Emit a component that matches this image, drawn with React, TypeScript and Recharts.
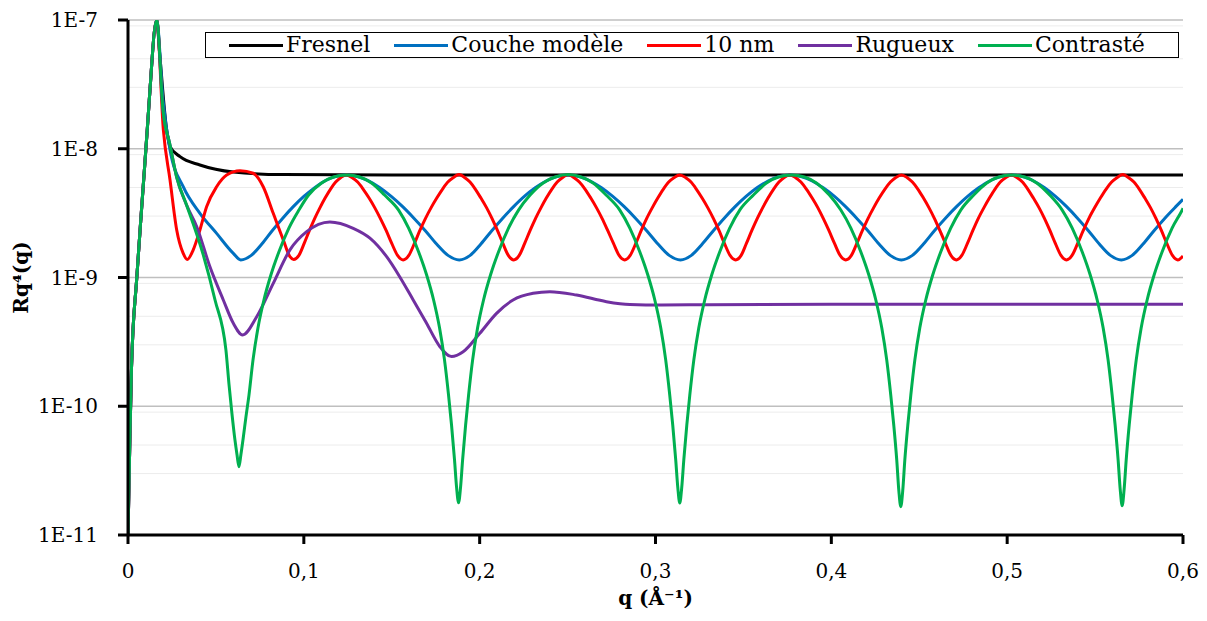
import React from 'react';
import { LineChart, Line, XAxis, YAxis, CartesianGrid, Legend } from 'recharts';

type Pt = [number, number];

// montée commune (bord critique) jusqu'au pic
const rise: Pt[] = [
  [0, 1e-11], [0.001, 5e-11], [0.002, 2.0e-10], [0.005, 1.0e-9], [0.008, 3.85e-9],
  [0.011, 1.44e-8], [0.0121, 2.39e-8], [0.0163, 1e-7],
];

const fresnel: Pt[] = [
  ...rise,
  [0.018, 5.5e-8], [0.022, 1.4e-8], [0.0239, 1.04e-8], [0.0296, 8.68e-9], [0.0409, 7.48e-9],
  [0.0599, 6.6e-9], [0.0883, 6.3e-9], [0.15, 6.25e-9], [0.3, 6.25e-9], [0.45, 6.25e-9], [0.6, 6.25e-9],
];

const coucheModele: Pt[] = [
  ...rise,
  [0.0199, 2.39e-8], [0.0239, 9.78e-9], [0.0314, 5.07e-9], [0.0409, 3.15e-9], [0.0504, 2.2e-9],
  [0.0599, 1.54e-9], [0.0641, 1.37e-9],
  [0.0701, 1.485e-9], [0.0761, 1.82e-9], [0.082, 2.31e-9], [0.088, 2.89e-9], [0.094, 3.55e-9],
  [0.1, 4.26e-9], [0.106, 4.97e-9], [0.1119, 5.62e-9], [0.1179, 6.07e-9], [0.1239, 6.25e-9],
  [0.1304, 6.07e-9], [0.1368, 5.62e-9], [0.1433, 4.97e-9], [0.1497, 4.26e-9], [0.1562, 3.55e-9],
  [0.1626, 2.89e-9], [0.1691, 2.31e-9], [0.1755, 1.82e-9], [0.182, 1.485e-9], [0.1884, 1.37e-9],
  [0.1946, 1.485e-9], [0.2007, 1.82e-9], [0.2069, 2.31e-9], [0.2131, 2.89e-9], [0.2193, 3.55e-9],
  [0.2254, 4.26e-9], [0.2316, 4.97e-9], [0.2378, 5.62e-9], [0.2439, 6.07e-9], [0.2501, 6.25e-9],
  [0.2565, 6.07e-9], [0.2629, 5.62e-9], [0.2693, 4.97e-9], [0.2757, 4.26e-9], [0.2822, 3.55e-9],
  [0.2886, 2.89e-9], [0.295, 2.31e-9], [0.3014, 1.82e-9], [0.3078, 1.485e-9], [0.3142, 1.37e-9],
  [0.3204, 1.485e-9], [0.3266, 1.82e-9], [0.3329, 2.31e-9], [0.3391, 2.89e-9], [0.3453, 3.55e-9],
  [0.3515, 4.26e-9], [0.3577, 4.97e-9], [0.364, 5.62e-9], [0.3702, 6.07e-9], [0.3764, 6.25e-9],
  [0.3827, 6.07e-9], [0.3891, 5.62e-9], [0.3954, 4.97e-9], [0.4018, 4.26e-9], [0.4081, 3.55e-9],
  [0.4144, 2.89e-9], [0.4208, 2.31e-9], [0.4271, 1.82e-9], [0.4335, 1.485e-9], [0.4398, 1.37e-9],
  [0.4461, 1.485e-9], [0.4524, 1.82e-9], [0.4586, 2.31e-9], [0.4649, 2.89e-9], [0.4712, 3.55e-9],
  [0.4775, 4.26e-9], [0.4838, 4.97e-9], [0.49, 5.62e-9], [0.4963, 6.07e-9], [0.5026, 6.25e-9],
  [0.5088, 6.07e-9], [0.5151, 5.62e-9], [0.5213, 4.97e-9], [0.5275, 4.26e-9], [0.5338, 3.55e-9],
  [0.54, 2.89e-9], [0.5462, 2.31e-9], [0.5524, 1.82e-9], [0.5587, 1.485e-9], [0.5649, 1.37e-9],
  [0.5711, 1.485e-9], [0.5773, 1.82e-9], [0.5835, 2.31e-9], [0.5897, 2.89e-9], [0.5959, 3.55e-9],
  [0.6, 4.05e-9],
];

const dixNm: Pt[] = [
  ...rise,
  [0.0201, 1.4e-8], [0.0239, 5.72e-9], [0.0277, 2.34e-9], [0.0314, 1.54e-9], [0.0337, 1.38e-9],
  [0.0371, 1.64e-9], [0.0409, 2.34e-9], [0.0447, 3.55e-9], [0.0504, 5.07e-9], [0.0561, 6.25e-9],
  [0.0637, 6.75e-9], [0.0712, 6.45e-9], [0.0769, 5.07e-9], [0.0826, 3.15e-9], [0.0883, 1.96e-9],
  [0.0921, 1.45e-9], [0.0942, 1.38e-9],
  [0.0972, 1.485e-9], [0.1002, 1.84e-9], [0.1032, 2.32e-9], [0.1062, 2.88e-9], [0.1092, 3.49e-9], [0.1121, 4.14e-9], [0.1151, 4.84e-9], [0.1181, 5.51e-9], [0.1211, 5.99e-9], [0.1241, 6.25e-9],
  [0.1273, 5.99e-9], [0.1306, 5.51e-9], [0.1338, 4.84e-9], [0.1371, 4.14e-9], [0.1403, 3.49e-9], [0.1435, 2.88e-9], [0.1468, 2.32e-9], [0.15, 1.84e-9], [0.1533, 1.485e-9], [0.1565, 1.37e-9],
  [0.1597, 1.485e-9], [0.1629, 1.84e-9], [0.166, 2.32e-9], [0.1692, 2.88e-9], [0.1724, 3.49e-9], [0.1756, 4.14e-9], [0.1788, 4.84e-9], [0.1819, 5.51e-9], [0.1851, 5.99e-9], [0.1883, 6.3e-9],
  [0.1914, 5.99e-9], [0.1945, 5.51e-9], [0.1976, 4.84e-9], [0.2007, 4.14e-9], [0.2039, 3.49e-9], [0.207, 2.88e-9], [0.2101, 2.32e-9], [0.2132, 1.84e-9], [0.2163, 1.485e-9], [0.2194, 1.37e-9],
  [0.2225, 1.485e-9], [0.2256, 1.84e-9], [0.2287, 2.32e-9], [0.2318, 2.88e-9], [0.2349, 3.49e-9], [0.2379, 4.14e-9], [0.241, 4.84e-9], [0.2441, 5.51e-9], [0.2472, 5.99e-9], [0.2503, 6.3e-9],
  [0.2535, 5.99e-9], [0.2567, 5.51e-9], [0.26, 4.84e-9], [0.2632, 4.14e-9], [0.2664, 3.49e-9], [0.2696, 2.88e-9], [0.2728, 2.32e-9], [0.2761, 1.84e-9], [0.2793, 1.485e-9], [0.2825, 1.37e-9],
  [0.2856, 1.485e-9], [0.2888, 1.84e-9], [0.2919, 2.32e-9], [0.295, 2.88e-9], [0.2982, 3.49e-9], [0.3013, 4.14e-9], [0.3044, 4.84e-9], [0.3075, 5.51e-9], [0.3107, 5.99e-9], [0.3138, 6.25e-9],
  [0.317, 5.99e-9], [0.3202, 5.51e-9], [0.3233, 4.84e-9], [0.3265, 4.14e-9], [0.3297, 3.49e-9], [0.3329, 2.88e-9], [0.3361, 2.32e-9], [0.3392, 1.84e-9], [0.3424, 1.485e-9], [0.3456, 1.37e-9],
  [0.3487, 1.485e-9], [0.3517, 1.84e-9], [0.3548, 2.32e-9], [0.3579, 2.88e-9], [0.361, 3.49e-9], [0.364, 4.14e-9], [0.3671, 4.84e-9], [0.3702, 5.51e-9], [0.3732, 5.99e-9], [0.3763, 6.25e-9],
  [0.3795, 5.99e-9], [0.3827, 5.51e-9], [0.3859, 4.84e-9], [0.3891, 4.14e-9], [0.3923, 3.49e-9], [0.3954, 2.88e-9], [0.3986, 2.32e-9], [0.4018, 1.84e-9], [0.405, 1.485e-9], [0.4082, 1.37e-9],
  [0.4114, 1.485e-9], [0.4145, 1.84e-9], [0.4177, 2.32e-9], [0.4209, 2.88e-9], [0.4241, 3.49e-9], [0.4272, 4.14e-9], [0.4304, 4.84e-9], [0.4336, 5.51e-9], [0.4367, 5.99e-9], [0.4399, 6.25e-9],
  [0.443, 5.99e-9], [0.4461, 5.51e-9], [0.4493, 4.84e-9], [0.4524, 4.14e-9], [0.4555, 3.49e-9], [0.4586, 2.88e-9], [0.4617, 2.32e-9], [0.4649, 1.84e-9], [0.468, 1.485e-9], [0.4711, 1.37e-9],
  [0.4742, 1.485e-9], [0.4774, 1.84e-9], [0.4805, 2.32e-9], [0.4836, 2.88e-9], [0.4868, 3.49e-9], [0.4899, 4.14e-9], [0.493, 4.84e-9], [0.4961, 5.51e-9], [0.4993, 5.99e-9], [0.5024, 6.25e-9],
  [0.5055, 5.99e-9], [0.5087, 5.51e-9], [0.5118, 4.84e-9], [0.5149, 4.14e-9], [0.5181, 3.49e-9], [0.5212, 2.88e-9], [0.5243, 2.32e-9], [0.5274, 1.84e-9], [0.5306, 1.485e-9], [0.5337, 1.37e-9],
  [0.5369, 1.485e-9], [0.5401, 1.84e-9], [0.5433, 2.32e-9], [0.5465, 2.88e-9], [0.5498, 3.49e-9], [0.553, 4.14e-9], [0.5562, 4.84e-9], [0.5594, 5.51e-9], [0.5626, 5.99e-9], [0.5658, 6.3e-9],
  [0.5689, 5.99e-9], [0.5721, 5.51e-9], [0.5752, 4.84e-9], [0.5783, 4.14e-9], [0.5815, 3.49e-9], [0.5846, 2.88e-9], [0.5877, 2.32e-9], [0.5908, 1.84e-9], [0.594, 1.485e-9], [0.5971, 1.37e-9],
  [0.6, 1.47e-9],
];

const rugueux: Pt[] = [
  ...rise,
  [0.0199, 2.0e-8], [0.0239, 1.07e-8], [0.0277, 6.0e-9], [0.0334, 3.63e-9], [0.0391, 2.48e-9],
  [0.0466, 1.21e-9], [0.0542, 6.69e-10], [0.0599, 4.41e-10], [0.0652, 3.58e-10], [0.0732, 4.96e-10],
  [0.0826, 9.01e-10], [0.0921, 1.64e-9], [0.1016, 2.27e-9], [0.1148, 2.7e-9], [0.1281, 2.41e-9],
  [0.1376, 2.02e-9], [0.1471, 1.45e-9], [0.1546, 1.01e-9], [0.1622, 6.69e-10], [0.1698, 4.41e-10],
  [0.1774, 2.9e-10], [0.184, 2.43e-10], [0.1906, 2.65e-10], [0.2001, 3.69e-10], [0.2096, 5.27e-10],
  [0.219, 6.69e-10], [0.2304, 7.54e-10], [0.2399, 7.76e-10], [0.2551, 7.31e-10], [0.2721, 6.49e-10],
  [0.2854, 6.17e-10], [0.3036, 6.11e-10], [0.33, 6.15e-10], [0.4, 6.2e-10], [0.5, 6.2e-10], [0.6, 6.2e-10],
];

const contraste: Pt[] = [
  ...rise,
  [0.0199, 2.0e-8], [0.0239, 1.07e-8], [0.0277, 6.0e-9], [0.0334, 3.63e-9], [0.0428, 1.5e-9],
  [0.0495, 6.69e-10], [0.0557, 2.73e-10], [0.0574, 1.5e-10], [0.0591, 8.8e-11], [0.0608, 5.5e-11],
  [0.062, 4.2e-11], [0.0631, 3.39e-11], [0.0642, 4.2e-11], [0.0654, 5.5e-11], [0.0671, 8.3e-11],
  [0.0688, 1.22e-10], [0.0711, 2.29e-10], [0.0739, 4.05e-10], [0.0773, 6.69e-10], [0.0813, 1.05e-9],
  [0.0858, 1.58e-9], [0.0915, 2.42e-9], [0.0972, 3.34e-9], [0.1027, 4.37e-9], [0.1101, 5.42e-9],
  [0.1169, 6.03e-9], [0.1243, 6.25e-9],
  [0.1317, 6.03e-9], [0.1385, 5.42e-9], [0.1459, 4.37e-9], [0.1539, 3.34e-9], [0.1596, 2.42e-9],
  [0.1653, 1.58e-9], [0.1698, 1.05e-9], [0.1738, 6.69e-10], [0.1772, 4.05e-10], [0.18, 2.29e-10],
  [0.1823, 1.22e-10], [0.184, 7.15e-11], [0.1857, 3.83e-11], [0.1869, 2.32e-11], [0.188, 1.78e-11],
  [0.1891, 2.32e-11], [0.1903, 3.83e-11], [0.192, 7.15e-11], [0.1937, 1.22e-10], [0.196, 2.29e-10],
  [0.1988, 4.05e-10], [0.2022, 6.69e-10], [0.2062, 1.05e-9], [0.2107, 1.58e-9], [0.2164, 2.42e-9],
  [0.2221, 3.34e-9], [0.2287, 4.37e-9], [0.2361, 5.42e-9], [0.2429, 6.03e-9], [0.2503, 6.3e-9],
  [0.2577, 6.03e-9], [0.2645, 5.42e-9], [0.2719, 4.37e-9], [0.2797, 3.34e-9], [0.2854, 2.42e-9],
  [0.2911, 1.58e-9], [0.2956, 1.05e-9], [0.2996, 6.69e-10], [0.303, 4.05e-10], [0.3058, 2.29e-10],
  [0.3081, 1.22e-10], [0.3098, 7.15e-11], [0.3115, 3.83e-11], [0.3127, 2.32e-11], [0.3138, 1.77e-11],
  [0.3149, 2.32e-11], [0.3161, 3.83e-11], [0.3178, 7.15e-11], [0.3195, 1.22e-10], [0.3218, 2.29e-10],
  [0.3246, 4.05e-10], [0.328, 6.69e-10], [0.332, 1.05e-9], [0.3365, 1.58e-9], [0.3422, 2.42e-9],
  [0.3479, 3.34e-9], [0.3557, 4.37e-9], [0.3631, 5.42e-9], [0.3699, 6.03e-9], [0.3773, 6.25e-9],
  [0.3847, 6.03e-9], [0.3915, 5.42e-9], [0.3989, 4.37e-9], [0.4054, 3.34e-9], [0.4111, 2.42e-9],
  [0.4168, 1.58e-9], [0.4213, 1.05e-9], [0.4253, 6.69e-10], [0.4287, 4.05e-10], [0.4315, 2.29e-10],
  [0.4338, 1.22e-10], [0.4355, 7.15e-11], [0.4372, 3.83e-11], [0.4384, 2.2e-11], [0.4395, 1.66e-11],
  [0.4406, 2.2e-11], [0.4418, 3.83e-11], [0.4435, 7.15e-11], [0.4452, 1.22e-10], [0.4475, 2.29e-10],
  [0.4503, 4.05e-10], [0.4537, 6.69e-10], [0.4577, 1.05e-9], [0.4622, 1.58e-9], [0.4679, 2.42e-9],
  [0.4736, 3.34e-9], [0.481, 4.37e-9], [0.4884, 5.42e-9], [0.4952, 6.03e-9], [0.5026, 6.25e-9],
  [0.51, 6.03e-9], [0.5168, 5.42e-9], [0.5242, 4.37e-9], [0.5313, 3.34e-9], [0.537, 2.42e-9],
  [0.5427, 1.58e-9], [0.5472, 1.05e-9], [0.5512, 6.69e-10], [0.5546, 4.05e-10], [0.5574, 2.29e-10],
  [0.5597, 1.22e-10], [0.5614, 7.15e-11], [0.5631, 3.83e-11], [0.5643, 2.25e-11], [0.5654, 1.69e-11],
  [0.5665, 2.25e-11], [0.5677, 3.83e-11], [0.5694, 7.15e-11], [0.5711, 1.22e-10], [0.5734, 2.29e-10],
  [0.5762, 4.05e-10], [0.5796, 6.69e-10], [0.5836, 1.05e-9], [0.5881, 1.58e-9], [0.5938, 2.42e-9],
  [0.5995, 3.34e-9], [0.6, 3.45e-9],
];

const xTicks = [0, 0.1, 0.2, 0.3, 0.4, 0.5, 0.6];
const yTicks = [1e-11, 1e-10, 1e-9, 1e-8, 1e-7];
const minorSteps = [2, 3, 4, 5, 6, 7, 8, 9];
const minorValues = yTicks.slice(0, -1).flatMap((d) => minorSteps.map((m) => m * d));

const series = [
  { name: 'Fresnel', color: '#000000', data: fresnel },
  { name: 'Couche modèle', color: '#0070C0', data: coucheModele },
  { name: '10 nm', color: '#FF0000', data: dixNm },
  { name: 'Rugueux', color: '#7030A0', data: rugueux },
  { name: 'Contrasté', color: '#00B050', data: contraste },
];

const font = '"DejaVu Serif", serif';

const toRows = (pts: Pt[]) => pts.map(([q, r]) => ({ q, r }));

const renderLegend = () => (
  <div
    style={{
      border: '1.5px solid #000',
      background: '#fff',
      height: 26,
      boxSizing: 'border-box',
      display: 'flex',
      alignItems: 'center',
      paddingLeft: 23,
      fontFamily: font,
      fontSize: 22,
      color: '#000',
      whiteSpace: 'nowrap',
    }}
  >
    {series.map((s) => (
      <div key={s.name} style={{ display: 'flex', alignItems: 'center', marginRight: 24 }}>
        <span style={{ display: 'inline-block', width: 54, height: 3, background: s.color, marginRight: 3 }} />
        <span style={{ lineHeight: '22px' }}>{s.name}</span>
      </div>
    ))}
  </div>
);

export default function App() {
  return (
    <div style={{ position: 'absolute', left: 0, top: 0, width: 1207, height: 621, background: '#fff' }}>
      <LineChart width={1207} height={621} margin={{ top: 20, right: 24, bottom: 36, left: 0 }}>
        <CartesianGrid vertical={false} horizontalValues={minorValues} stroke="#ECECEC" strokeWidth={1} />
        <CartesianGrid vertical={false} stroke="#BFBFBF" strokeWidth={1.5} />
        <XAxis
          type="number"
          dataKey="q"
          domain={[0, 0.6]}
          ticks={xTicks}
          allowDataOverflow
          height={50}
          tickSize={9}
          tickMargin={20}
          axisLine={{ stroke: '#000', strokeWidth: 3 }}
          tickLine={{ stroke: '#000', strokeWidth: 3 }}
          tick={{ fill: '#000', fontFamily: font, fontSize: 20 }}
          tickFormatter={(v: number) => String(v).replace('.', ',')}
          label={{
            value: 'q (Å⁻¹)',
            position: 'bottom',
            offset: 6,
            style: { fontFamily: font, fontSize: 20, fontWeight: 'bold', fill: '#000' },
          }}
        />
        <YAxis
          type="number"
          scale="log"
          domain={[1e-11, 1e-7]}
          ticks={yTicks}
          allowDataOverflow
          width={128}
          tickSize={10}
          tickMargin={20}
          axisLine={{ stroke: '#000', strokeWidth: 3 }}
          tickLine={{ stroke: '#000', strokeWidth: 3 }}
          tick={{ fill: '#000', fontFamily: font, fontSize: 20 }}
          tickFormatter={(v: number) => `1E${Math.round(Math.log10(v))}`}
          label={{
            value: 'Rq⁴(q)',
            angle: -90,
            position: 'insideLeft',
            offset: 21,
            style: { textAnchor: 'middle', fontFamily: font, fontSize: 20, fontWeight: 'bold', fill: '#000' },
          }}
        />
        <Legend
          layout="horizontal"
          verticalAlign="middle"
          align="center"
          content={renderLegend}
          wrapperStyle={{ top: 32, left: 205, width: 974, height: 26 }}
        />
        {series.map((s) => (
          <Line
            key={s.name}
            name={s.name}
            data={toRows(s.data)}
            dataKey="r"
            type="monotone"
            stroke={s.color}
            strokeWidth={3}
            dot={false}
            activeDot={false}
            isAnimationActive={false}
          />
        ))}
      </LineChart>
    </div>
  );
}
